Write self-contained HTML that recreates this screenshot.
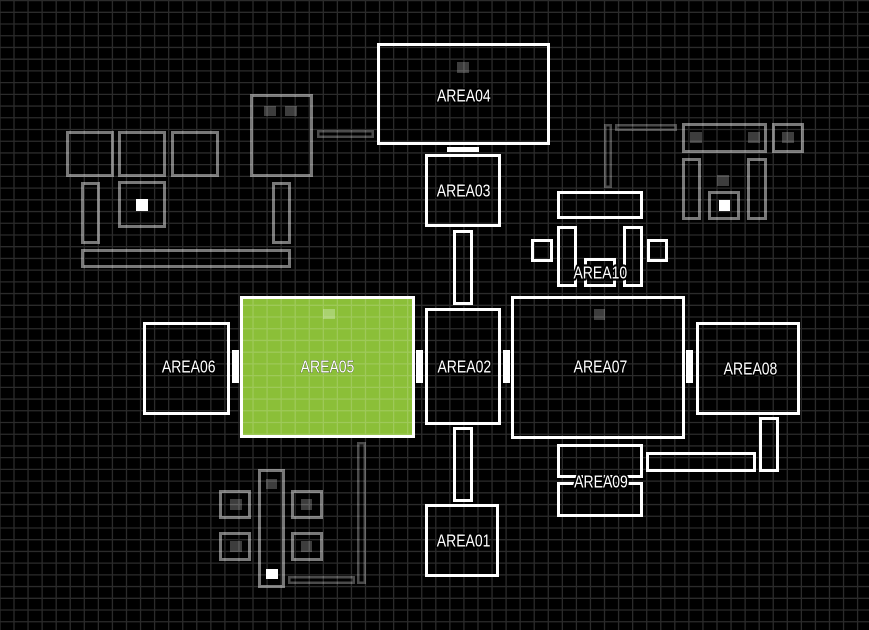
<!DOCTYPE html>
<html>
<head>
<meta charset="utf-8">
<style>
html,body{margin:0;padding:0;background:#000;}
svg{display:block;}
</style>
</head>
<body>
<svg width="869" height="630" viewBox="0 0 869 630" xmlns="http://www.w3.org/2000/svg">
<rect x="0" y="0" width="869" height="630" fill="#000"/>

<!-- Light gray decorative boxes (top-left) -->
<g fill="none" stroke="#787878" stroke-width="3">
  <rect x="67.5" y="132.5" width="45" height="43"/>
  <rect x="119.5" y="132.5" width="45" height="43"/>
  <rect x="172.5" y="132.5" width="45" height="43"/>
  <rect x="82.5" y="183.5" width="16" height="59"/>
  <rect x="119.5" y="182.5" width="45" height="44"/>
  <rect x="273.5" y="183.5" width="16" height="59"/>
  <rect x="82.5" y="250.5" width="207" height="16"/>
  <rect x="251.5" y="95.5" width="60" height="80"/>
  <!-- top-right -->
  <rect x="683.5" y="124.5" width="82" height="27"/>
  <rect x="773.5" y="124.5" width="29" height="27"/>
  <rect x="683.5" y="159.5" width="16" height="59"/>
  <rect x="748.5" y="159.5" width="17" height="59"/>
  <rect x="709.5" y="192.5" width="29" height="26"/>
  <!-- bottom-left -->
  <rect x="259.5" y="470.5" width="24" height="116"/>
  <rect x="220.5" y="491.5" width="29" height="26"/>
  <rect x="220.5" y="533.5" width="29" height="26"/>
  <rect x="292.5" y="491.5" width="29" height="26"/>
  <rect x="292.5" y="533.5" width="29" height="26"/>
</g>

<!-- Dark gray bars -->
<g fill="none" stroke="#4a4a4a" stroke-width="2.5">
  <rect x="318.25" y="131.25" width="54.5" height="5.5"/>
  <rect x="605.25" y="125.25" width="5.5" height="61.5"/>
  <rect x="616.25" y="125.25" width="59.5" height="4.5"/>
  <rect x="358.25" y="443.25" width="6.5" height="139.5"/>
  <rect x="289.25" y="577.25" width="64.5" height="5.5"/>
</g>

<!-- Dark squares -->
<g fill="#3d3d3d">
  <rect x="264" y="106" width="12" height="10"/>
  <rect x="285" y="106" width="12" height="10"/>
  <rect x="690" y="132" width="12" height="11"/>
  <rect x="748" y="132" width="12" height="11"/>
  <rect x="782" y="132" width="12" height="11"/>
  <rect x="717" y="175" width="12" height="11"/>
  <rect x="266" y="479" width="11" height="10"/>
  <rect x="230" y="499" width="12" height="11"/>
  <rect x="230" y="541" width="12" height="11"/>
  <rect x="301" y="499" width="11" height="11"/>
  <rect x="301" y="541" width="11" height="11"/>
  <rect x="457" y="62" width="12" height="11"/>
  <rect x="594" y="309" width="11" height="11"/>
</g>

<!-- White squares -->
<g fill="#fff">
  <rect x="136" y="199" width="12" height="12"/>
  <rect x="719" y="200" width="11" height="11"/>
  <rect x="266" y="569" width="12" height="10"/>
</g>

<!-- Green AREA05 -->
<rect x="241.5" y="297.5" width="172" height="139" fill="#8bbf38" stroke="#fff" stroke-width="3"/>
<rect x="323" y="309" width="12" height="10" fill="#a9d26f"/>

<!-- White main boxes -->
<g fill="none" stroke="#fff" stroke-width="3">
  <rect x="378.5" y="44.5" width="170" height="99"/>
  <rect x="426.5" y="155.5" width="73" height="70"/>
  <rect x="454.5" y="231.5" width="17" height="72"/>
  <rect x="426.5" y="309.5" width="73" height="114"/>
  <rect x="454.5" y="428.5" width="17" height="72"/>
  <rect x="426.5" y="505.5" width="71" height="70"/>
  <rect x="144.5" y="323.5" width="84" height="90"/>
  <rect x="512.5" y="297.5" width="171" height="140"/>
  <rect x="697.5" y="323.5" width="101" height="90"/>
  <!-- AREA10 cluster -->
  <rect x="558.5" y="192.5" width="83" height="25"/>
  <rect x="558.5" y="227.5" width="17" height="58"/>
  <rect x="624.5" y="227.5" width="17" height="58"/>
  <rect x="532.5" y="240.5" width="19" height="20"/>
  <rect x="648.5" y="240.5" width="18" height="20"/>
  <rect x="585.5" y="259.5" width="29" height="26"/>
  <!-- AREA09 cluster -->
  <rect x="558.5" y="445.5" width="83" height="31"/>
  <rect x="558.5" y="483.5" width="83" height="32"/>
  <rect x="647.5" y="453.5" width="107" height="17"/>
  <rect x="760.5" y="418.5" width="17" height="52"/>
</g>

<!-- Connectors -->
<g fill="#fff">
  <rect x="447" y="147" width="32" height="5"/>
  <rect x="232" y="350" width="7" height="33"/>
  <rect x="416" y="350" width="7" height="33"/>
  <rect x="503" y="350" width="7" height="33"/>
  <rect x="686" y="350" width="7" height="33"/>
</g>

<!-- Grid overlay -->
<path fill="none" stroke="rgba(255,255,255,0.17)" stroke-width="1.3" d="
M0 0V630 M14 0V630 M28.06 0V630 M42.12 0V630 M56.18 0V630 M70.24 0V630 M84.3 0V630 M98.36 0V630
M112.42 0V630 M126.48 0V630 M140.54 0V630 M154.6 0V630 M168.66 0V630 M182.72 0V630 M196.78 0V630
M210.84 0V630 M224.9 0V630 M238.96 0V630 M253.02 0V630 M267.08 0V630 M281.14 0V630 M295.2 0V630
M309.26 0V630 M323.32 0V630 M337.38 0V630 M351.44 0V630 M365.5 0V630 M379.56 0V630 M393.62 0V630
M407.68 0V630 M421.74 0V630 M435.8 0V630 M449.86 0V630 M463.92 0V630 M477.98 0V630 M492.04 0V630
M506.1 0V630 M520.16 0V630 M534.22 0V630 M548.28 0V630 M562.34 0V630 M576.4 0V630 M590.46 0V630
M604.52 0V630 M618.58 0V630 M632.64 0V630 M646.7 0V630 M660.76 0V630 M674.82 0V630 M688.88 0V630
M702.94 0V630 M717 0V630 M731.06 0V630 M745.12 0V630 M759.18 0V630 M773.24 0V630 M787.3 0V630
M801.36 0V630 M815.42 0V630 M829.48 0V630 M843.54 0V630 M857.6 0V630
M0 0.58H869 M0 12.3H869 M0 24.02H869 M0 35.74H869 M0 47.46H869 M0 59.18H869 M0 70.9H869
M0 82.62H869 M0 94.34H869 M0 106.06H869 M0 117.78H869 M0 129.5H869 M0 141.22H869 M0 152.94H869
M0 164.66H869 M0 176.38H869 M0 188.1H869 M0 199.82H869 M0 211.54H869 M0 223.26H869 M0 234.98H869
M0 246.7H869 M0 258.42H869 M0 270.14H869 M0 281.86H869 M0 293.58H869 M0 305.3H869 M0 317.02H869
M0 328.74H869 M0 340.46H869 M0 352.18H869 M0 363.9H869 M0 375.62H869 M0 387.34H869 M0 399.06H869
M0 410.78H869 M0 422.5H869 M0 434.22H869 M0 445.94H869 M0 457.66H869 M0 469.38H869 M0 481.1H869
M0 492.82H869 M0 504.54H869 M0 516.26H869 M0 527.98H869 M0 539.7H869 M0 551.42H869 M0 563.14H869
M0 574.86H869 M0 586.58H869 M0 598.3H869 M0 610.02H869 M0 621.74H869"/>

<!-- Labels -->
<g font-family="'Liberation Sans', sans-serif" font-size="14" fill="#fff" stroke="#000" stroke-width="2.6" paint-order="stroke" stroke-linejoin="round" text-anchor="middle">
  <text transform="translate(463.8,101.7) scale(1,1.23)">AREA04</text>
  <text transform="translate(463.6,196.7) scale(1,1.23)">AREA03</text>
  <text transform="translate(327.5,372.3) scale(1,1.23)" stroke-width="0.6" stroke="#3a4a20">AREA05</text>
  <text transform="translate(188.7,372.3) scale(1,1.23)">AREA06</text>
  <text transform="translate(464.3,372.3) scale(1,1.23)">AREA02</text>
  <text transform="translate(600.5,372.3) scale(1,1.23)">AREA07</text>
  <text transform="translate(750.5,374.7) scale(1,1.23)">AREA08</text>
  <text transform="translate(600.3,278.7) scale(1,1.23)" stroke-width="3.4">AREA10</text>
  <text transform="translate(601,487.3) scale(1,1.23)" stroke-width="3.4">AREA09</text>
  <text transform="translate(463.6,546.7) scale(1,1.23)">AREA01</text>
</g>
</svg>
</body>
</html>
